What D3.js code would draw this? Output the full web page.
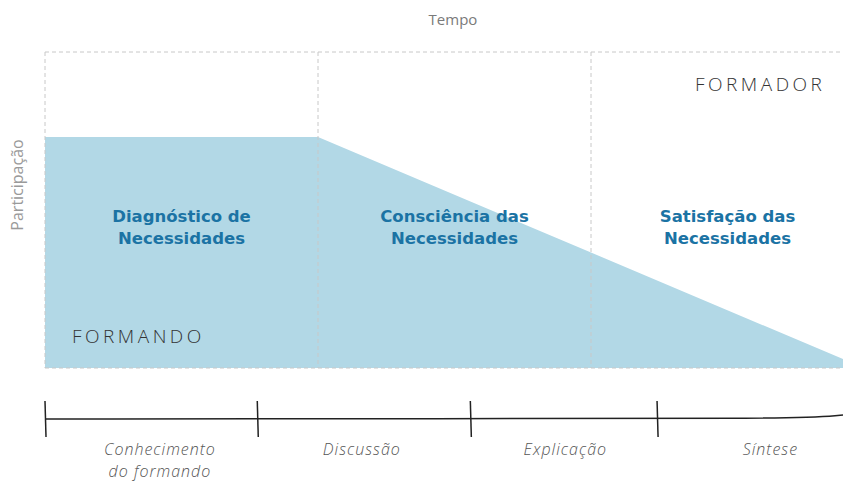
<!DOCTYPE html>
<html>
<head>
<meta charset="utf-8">
<script src="https://d3js.org/d3.v7.min.js"></script>
<style>
body { margin: 0; background: #fff; }
.phase { font-family: "DejaVu Sans", Verdana, sans-serif; font-weight: bold; font-size: 16.5px; fill: #1b73a4; }
.hand { font-family: "Open Sans", sans-serif; font-style: italic; font-weight: 300; }
.role { font-family: "Open Sans", sans-serif; font-weight: 300; }
</style>
</head>
<body>
<div id="chart"></div>
<script>
// phases along the x axis (0..3) and participation level of the trainee
var phases = ["Diagnóstico de\nNecessidades", "Consciência das\nNecessidades", "Satisfação das\nNecessidades"];
var stepX = [0, 1, 2, 3];
var participation = [1, 1, 0.5, 0];

// timeline below the chart (0..100 along the line)
var timeTicks = [0, 26.6, 53.3, 76.7];
var stageNames = ["Conhecimento\ndo formando", "Discussão", "Explicação", "Síntese"];
var stagePos = [14.4, 39.7, 65.2, 90.9];

var W = 843, H = 481;

var svg = d3.select("#chart").append("svg")
  .attr("width", W)
  .attr("height", H);

var x = d3.scaleLinear().domain([0, 3]).range([45, 864]);
var y = d3.scaleLinear().domain([0, 1.368]).range([368, 52]);

// shaded area
var pts = stepX.map(function(d, i) { return [d, participation[i]]; });
svg.append("path")
  .datum(pts)
  .attr("fill", "#b2d8e6")
  .attr("d", d3.area()
    .x(function(d) { return x(d[0]); })
    .y0(y(0))
    .y1(function(d) { return y(d[1]); }));

// dashed frame and phase dividers
var dash = svg.append("g")
  .attr("stroke", "#c8c8c8")
  .attr("stroke-dasharray", "4,3")
  .attr("fill", "none");
dash.append("line").attr("x1", x(0)).attr("x2", x(3)).attr("y1", y.range()[1]).attr("y2", y.range()[1]);
dash.append("line").attr("x1", x(0)).attr("x2", x(3)).attr("y1", y(0)).attr("y2", y(0));
dash.selectAll(".v")
  .data([0, 1, 2])
  .enter().append("line")
  .attr("x1", function(d) { return x(d); })
  .attr("x2", function(d) { return x(d); })
  .attr("y1", y.range()[1])
  .attr("y2", y(0));

// phase titles
svg.selectAll(".phase")
  .data(phases)
  .enter().append("text")
  .attr("class", "phase")
  .attr("text-anchor", "middle")
  .attr("x", function(d, i) { return x(i + 0.5); })
  .attr("y", 222)
  .selectAll("tspan")
  .data(function(d) { return d.split("\n"); })
  .enter().append("tspan")
  .attr("x", function() { return d3.select(this.parentNode).attr("x"); })
  .attr("dy", function(d, i) { return i ? 22 : 0; })
  .text(function(d) { return d; });

// axis titles
svg.append("text")
  .attr("x", 453).attr("y", 25)
  .attr("text-anchor", "middle")
  .attr("font-family", "Open Sans, sans-serif")
  .attr("font-size", 15)
  .attr("fill", "#7a7a7a")
  .text("Tempo");

svg.append("text")
  .attr("transform", "translate(23,185) rotate(-90)")
  .attr("text-anchor", "middle")
  .attr("font-family", "Open Sans, sans-serif")
  .attr("font-size", 16)
  .attr("fill", "#9a9a9a")
  .text("Participação");

// role labels
svg.append("text")
  .attr("class", "role")
  .attr("x", 72).attr("y", 343)
  .attr("font-size", 19)
  .attr("letter-spacing", 3.5)
  .attr("fill", "#333")
  .text("FORMANDO");

svg.append("text")
  .attr("class", "role")
  .attr("x", 695).attr("y", 91)
  .attr("font-size", 19)
  .attr("letter-spacing", 3.5)
  .attr("fill", "#333")
  .text("FORMADOR");

// timeline
var t = d3.scaleLinear().domain([0, 100]).range([45, 843]);
var lineY = 419;

svg.append("path")
  .attr("fill", "none")
  .attr("stroke", "#222")
  .attr("stroke-width", 1.5)
  .attr("d", d3.line().curve(d3.curveBasis)([
    [t(0), lineY], [t(50), lineY - 0.5], [t(94), lineY], [t(100), lineY - 4]
  ]));

svg.selectAll(".tick")
  .data(timeTicks)
  .enter().append("line")
  .attr("stroke", "#222")
  .attr("stroke-width", 1.5)
  .attr("x1", function(d) { return t(d); })
  .attr("x2", function(d) { return t(d) + 1; })
  .attr("y1", 401)
  .attr("y2", 437);

svg.selectAll(".stage")
  .data(stageNames)
  .enter().append("text")
  .attr("class", "hand")
  .attr("text-anchor", "middle")
  .attr("font-size", 16)
  .attr("letter-spacing", 1)
  .attr("fill", "#555")
  .attr("x", function(d, i) { return t(stagePos[i]); })
  .attr("y", 455)
  .selectAll("tspan")
  .data(function(d) { return d.split("\n"); })
  .enter().append("tspan")
  .attr("x", function() { return d3.select(this.parentNode).attr("x"); })
  .attr("dy", function(d, i) { return i ? 22 : 0; })
  .text(function(d) { return d; });
</script>
</body>
</html>
